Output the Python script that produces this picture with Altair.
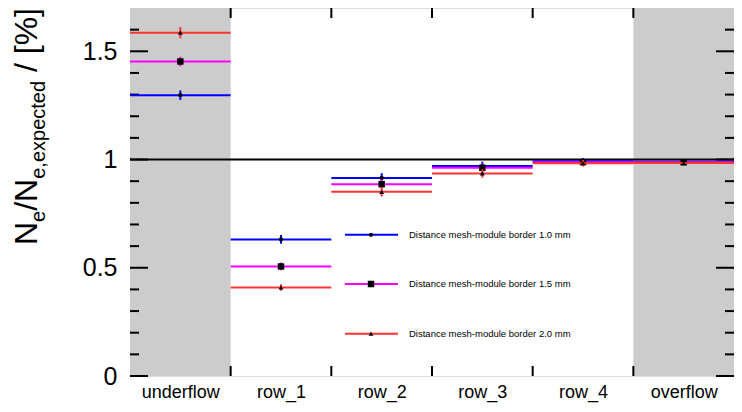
import json
import altair as alt
import pandas as pd

# ---------------- data ----------------
categories = ["underflow", "row_1", "row_2", "row_3", "row_4", "overflow"]
series_names = [
    "Distance mesh-module border 1.0 mm",
    "Distance mesh-module border 1.5 mm",
    "Distance mesh-module border 2.0 mm",
]
values_10 = [1.297, 0.631, 0.915, 0.970, 0.992, 0.990]
values_15 = [1.453, 0.506, 0.886, 0.962, 0.988, 0.987]
values_20 = [1.586, 0.409, 0.851, 0.936, 0.983, 0.984]
errors_10 = [0.022, 0.020, 0.022, 0.020, 0.015, 0.005]
errors_15 = [0.022, 0.018, 0.022, 0.020, 0.015, 0.005]
errors_20 = [0.026, 0.015, 0.022, 0.020, 0.015, 0.005]
shaded_bins = ["underflow", "overflow"]
reference_level = [1.0]
y_major_ticks = [0, 0.5, 1, 1.5]
y_minor_ticks = [0.1, 0.2, 0.3, 0.4, 0.6, 0.7, 0.8, 0.9, 1.1, 1.2, 1.3, 1.4, 1.6]
title_main = ["N", "/N", "/ [%]"]
title_sub = ["e", "e,expected"]

# ---------------- styles ----------------
colors = ["#0000ff", "#ff00ff", "#ff3333"]
shapes = ["circle", "square", "triangle-up"]
marker_sizes = [18, 42, 24]
FONT = "Liberation Sans"
W, H = 604, 368

xscale = alt.Scale(domain=[0, len(categories)], nice=False, zero=False)
yscale = alt.Scale(domain=[0, 1.7], nice=False, zero=False)
label_expr = json.dumps(categories) + "[floor(datum.value)]"
xaxis = alt.Axis(values=[i + 0.5 for i in range(len(categories))], labelExpr=label_expr,
                 ticks=False, domain=False, grid=False, labelFontSize=18, labelFont=FONT,
                 labelColor="black", labelPadding=7, title=None, labelFlush=False,
                 labelOverlap=False)
yaxis = alt.Axis(values=y_major_ticks, format="~g", ticks=False, domain=False, grid=False,
                 labelFontSize=25, labelFont=FONT, labelColor="black", labelPadding=13,
                 title=None)


def X(f):
    return alt.X(f, type="quantitative", scale=xscale, axis=xaxis)


def Y(f):
    return alt.Y(f, type="quantitative", scale=yscale, axis=yaxis)


layers = []

# shaded under/overflow bins
shade_df = pd.DataFrame({"cat": shaded_bins})
shade_df["x0"] = [categories.index(c) for c in shaded_bins]
shade_df["x1"] = shade_df["x0"] + 1
shade_df["y0"] = 0
shade_df["y1"] = 1.7
layers.append(alt.Chart(shade_df).mark_rect(color="#cccccc").encode(
    x=X("x0"), x2="x1", y=Y("y0"), y2="y1"))

# reference line at 1
layers.append(alt.Chart(pd.DataFrame({"y": reference_level})).mark_rule(
    color="black", strokeWidth=2).encode(y=Y("y"), x=alt.value(0), x2=alt.value(W)))

# inward ticks
maj = pd.DataFrame({"y": y_major_ticks})
mnr = pd.DataFrame({"y": y_minor_ticks})
edges = pd.DataFrame({"x": list(range(1, len(categories)))})
tick = dict(color="black", strokeWidth=2)
layers.append(alt.Chart(maj).mark_rule(**tick).encode(y=Y("y"), x=alt.value(0), x2=alt.value(18)))
layers.append(alt.Chart(mnr).mark_rule(**tick).encode(y=Y("y"), x=alt.value(0), x2=alt.value(9)))
layers.append(alt.Chart(maj).mark_rule(**tick).encode(y=Y("y"), x=alt.value(W), x2=alt.value(W - 18)))
layers.append(alt.Chart(mnr).mark_rule(**tick).encode(y=Y("y"), x=alt.value(W), x2=alt.value(W - 9)))
layers.append(alt.Chart(edges).mark_rule(**tick).encode(x=X("x"), y=alt.value(H), y2=alt.value(H - 10)))
layers.append(alt.Chart(edges).mark_rule(**tick).encode(x=X("x"), y=alt.value(0), y2=alt.value(10)))

# data series
all_vals = [values_10, values_15, values_20]
all_errs = [errors_10, errors_15, errors_20]
for k in range(3):
    df = pd.DataFrame({"cat": categories, "v": all_vals[k], "e": all_errs[k]})
    df["x0"] = list(range(len(categories)))
    df["x1"] = df["x0"] + 1
    df["xc"] = df["x0"] + 0.5
    df["lo"] = df["v"] - df["e"]
    df["hi"] = df["v"] + df["e"]
    base = alt.Chart(df)
    layers.append(base.mark_rule(color=colors[k], strokeWidth=2).encode(
        x=X("x0"), x2="x1", y=Y("v")))
    layers.append(base.mark_rule(color=colors[k], strokeWidth=2).encode(
        x=X("xc"), y=Y("lo"), y2="hi"))
    layers.append(base.mark_point(shape=shapes[k], filled=True, color="black", opacity=1,
                                  size=marker_sizes[k], strokeWidth=0).encode(
        x=X("xc"), y=Y("v")))

# legend (drawn by hand)
leg_y = [226.8, 276.0, 325.7]
for k in range(3):
    ldf = pd.DataFrame({"label": [series_names[k]]})
    lb = alt.Chart(ldf)
    layers.append(lb.mark_rule(color=colors[k], strokeWidth=2).encode(
        x=alt.value(215), x2=alt.value(268), y=alt.value(leg_y[k])))
    layers.append(lb.mark_point(shape=shapes[k], filled=True, color="black", opacity=1,
                                size=marker_sizes[k], strokeWidth=0).encode(
        x=alt.value(241), y=alt.value(leg_y[k])))
    layers.append(lb.mark_text(align="left", baseline="middle", font=FONT, fontSize=9.5,
                               color="black").encode(
        x=alt.value(279), y=alt.value(leg_y[k]), text="label:N"))

# y-axis title with subscripts (rotated pieces)
F, S = 32, 20
pieces = [(title_main[0], F, 0.0), (title_sub[0], S, 0.0), (title_main[1], F, 0.0),
          (title_sub[1], S, 0.0), (title_main[2], F, 0.278)]
em = {"N": 0.722, "/": 0.278, " ": 0.278, "[": 0.278, "%": 0.889,
      "]": 0.278, "e": 0.556, ",": 0.278, "x": 0.5, "p": 0.556, "c": 0.5, "t": 0.278,
      "d": 0.556}
ypos = 237.0
for txt, fs, gap in pieces:
    ypos -= gap * fs
    tdf = pd.DataFrame({"t": [txt]})
    layers.append(alt.Chart(tdf).mark_text(align="left", baseline="alphabetic", angle=270,
                                           font=FONT, fontSize=fs, color="black").encode(
        x=alt.value(-93 if fs == F else -85), y=alt.value(ypos), text="t:N"))
    ypos -= sum(em.get(c, 0.55) for c in txt) * fs

chart = alt.layer(*layers).properties(
    width=W, height=H,
    autosize=alt.AutoSizeParams(type="none"),
    padding={"left": 122, "top": 0, "right": 0, "bottom": 28},
).configure_view(stroke="black", strokeWidth=2).configure(background="white")

chart.save("out.html", embed_options={"renderer": "svg", "actions": False})
